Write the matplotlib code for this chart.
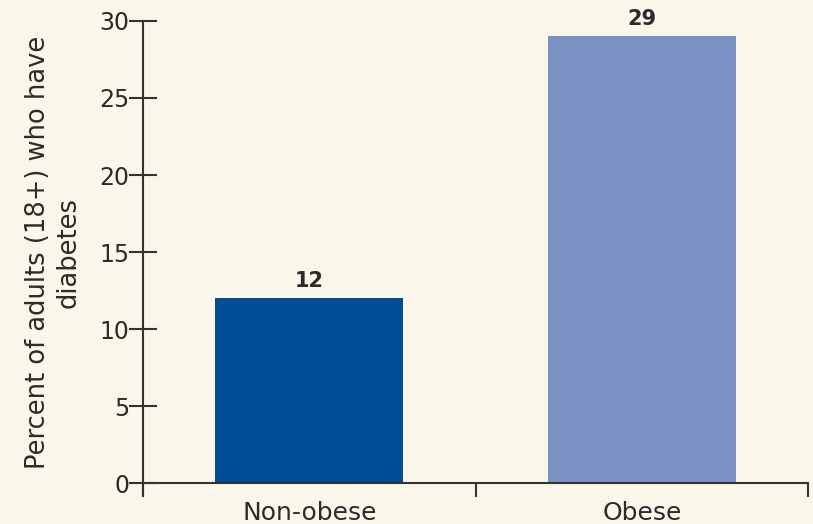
import matplotlib
matplotlib.use("Agg")
import matplotlib.pyplot as plt
from matplotlib.ticker import FixedLocator

categories = ["Non-obese", "Obese"]
values = [12, 29]
colors = ["#004C95", "#7A92C4"]
yticks = [0, 5, 10, 15, 20, 25, 30]

bg = "#FBF6EA"
txt = "#2B2B2B"

fig = plt.figure(figsize=(8.13, 5.24), dpi=100, facecolor=bg)
ax = fig.add_axes([0.176, 0.078, 0.818, 0.882], facecolor=bg)

x = list(range(len(categories)))
bars = ax.bar(x, values, width=0.565, color=colors)
for xi, v in zip(x, values):
    ax.text(xi, v + 0.5, str(v), ha="center", va="bottom", fontsize=15,
            fontweight="bold", color=txt)

ax.set_xlim(-0.5, 1.5)
ax.set_ylim(0, 30)
ax.set_yticks(yticks)
ax.set_xticks(x)
ax.set_xticklabels(categories, fontsize=18, color=txt)
ax.xaxis.set_minor_locator(FixedLocator([-0.5, 0.5, 1.5]))
ax.tick_params(axis="x", which="major", length=0, pad=13)
ax.tick_params(axis="x", which="minor", length=10, width=1.5, color="#333333", direction="out")
ax.tick_params(axis="y", length=20, width=1.5, direction="inout", color="#333333",
               labelsize=17, labelcolor=txt, pad=0)

for s in ["top", "right"]:
    ax.spines[s].set_visible(False)
for s in ["left", "bottom"]:
    ax.spines[s].set_linewidth(1.5)
    ax.spines[s].set_color("#333333")
ax.spines["left"].set_bounds(-0.8, 30)

ax.set_ylabel("Percent of adults (18+) who have\ndiabetes", fontsize=18.5,
              color=txt, linespacing=1.2)
ax.yaxis.set_label_coords(-0.093, 0.5)

fig.savefig("out.png", dpi=100, facecolor=bg)
